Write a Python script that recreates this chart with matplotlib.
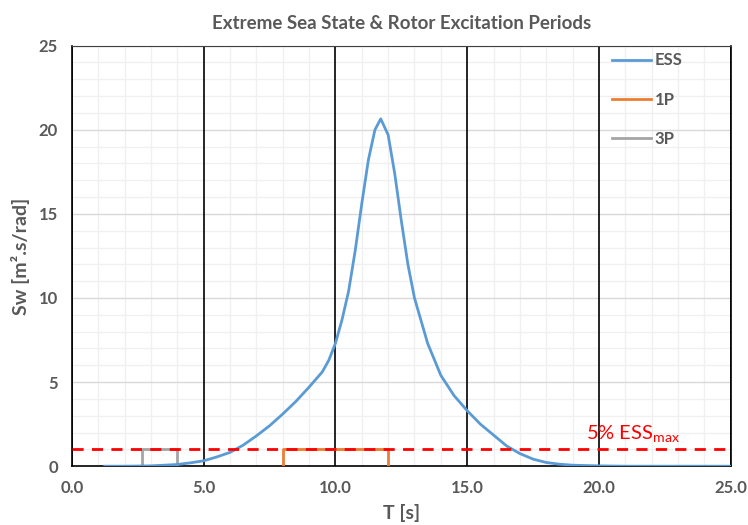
import matplotlib.pyplot as plt
from matplotlib.ticker import MultipleLocator

plt.rcParams['font.family'] = ['Lato', 'DejaVu Sans']

# ESS spectrum
T = [1.25, 2.0, 3.0, 4.0, 4.5, 5.0, 5.5, 6.0, 6.5, 7.0, 7.5, 8.0, 8.5, 9.0, 9.5,
     9.75, 10.0, 10.25, 10.5, 10.75, 11.0, 11.25, 11.5, 11.72, 12.0, 12.25, 12.5,
     12.75, 13.0, 13.5, 14.0, 14.5, 15.0, 15.5, 16.0, 16.5, 17.0, 17.5, 18.0,
     18.5, 19.0, 20.0, 21.0, 23.0, 25.0]
S = [0.0, 0.0, 0.02, 0.1, 0.2, 0.32, 0.55, 0.82, 1.25, 1.8, 2.4, 3.1, 3.85, 4.7,
     5.6, 6.3, 7.3, 8.7, 10.4, 12.8, 15.6, 18.2, 20.0, 20.65, 19.7, 17.4, 14.6,
     12.0, 10.0, 7.3, 5.4, 4.2, 3.3, 2.5, 1.85, 1.2, 0.75, 0.42, 0.22, 0.12,
     0.06, 0.02, 0.0, 0.0, 0.0]

# rotor excitation bands
T_1p = [8.0, 8.0, 12.0, 12.0]
T_3p = [2.67, 2.67, 4.0, 4.0]
level = 0.05 * max(S)
band_y = [0, level, level, 0]

grey = '#595959'

fig, ax = plt.subplots(figsize=(7.48, 5.25), dpi=100)
fig.subplots_adjust(left=0.096, right=0.977, top=0.913, bottom=0.112)

ax.plot(T, S, color='#5b9bd5', linewidth=2, label='ESS', zorder=4)
ax.plot(T_1p, band_y, color='#ed7d31', linewidth=2, label='1P', zorder=3)
ax.plot(T_3p, band_y, color='#a5a5a5', linewidth=2, label='3P', zorder=3)
ax.axhline(level, color='red', linestyle=(0, (4, 3)), linewidth=2, zorder=5)
ax.text(21.3, level + 0.2, '5% ESS$_{\\mathregular{max}}$', color='red',
        fontsize=14.5, ha='center', va='bottom')

ax.set_xlim(0, 25)
ax.set_ylim(0, 25)
ax.xaxis.set_major_locator(MultipleLocator(5))
ax.xaxis.set_minor_locator(MultipleLocator(1))
ax.yaxis.set_major_locator(MultipleLocator(5))
ax.yaxis.set_minor_locator(MultipleLocator(1))
ax.xaxis.set_major_formatter(lambda v, p: f'{v:.1f}')

ax.grid(which='minor', color='#f0f0f0', linewidth=1)
ax.grid(which='major', axis='y', color='#d9d9d9', linewidth=1)
ax.set_axisbelow(True)
# black vertical major gridlines, drawn above the light grid
for xv in ax.get_xticks()[1:-1]:
    ax.axvline(xv, color='black', linewidth=1.2, zorder=1)

ax.tick_params(which='both', length=0, labelsize=12, labelcolor=grey, pad=10)
for lab in ax.get_xticklabels() + ax.get_yticklabels():
    lab.set_fontweight('bold')
for side in ['left', 'bottom', 'right']:
    ax.spines[side].set_color('black')
    ax.spines[side].set_linewidth(1.2)
ax.spines['top'].set_color('#404040')

ax.set_title('Extreme Sea State & Rotor Excitation Periods', fontsize=13.5,
             fontweight='bold', color=grey, pad=12)
ax.set_xlabel('T [s]', fontsize=14, fontweight='bold', color=grey, labelpad=6)
ax.set_ylabel('Sw [m\u00b2.s/rad]', fontsize=14, fontweight='bold', color=grey,
              labelpad=6)

leg = ax.legend(loc='upper left', bbox_to_anchor=(0.81, 1.0), frameon=False,
                fontsize=12, labelspacing=1.4, handlelength=2.35,
                handletextpad=0.2, borderaxespad=0)
for t in leg.get_texts():
    t.set_color(grey)
    t.set_fontweight('bold')

fig.savefig('out.png')
